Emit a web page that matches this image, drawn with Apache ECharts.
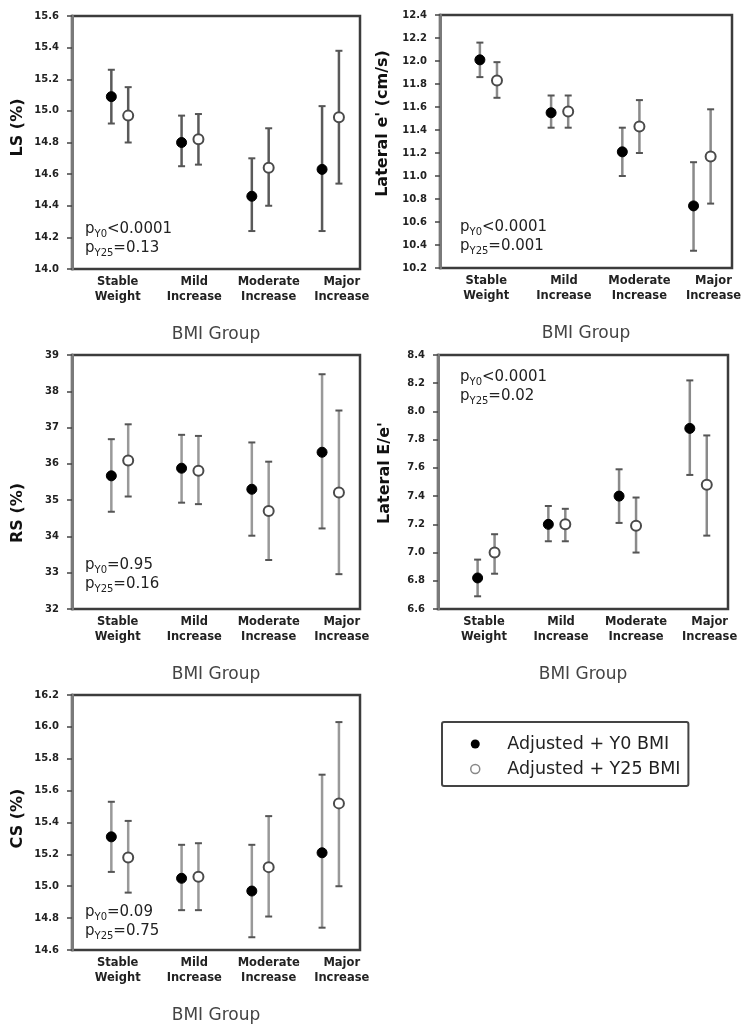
<!DOCTYPE html>
<html>
<head>
<meta charset="utf-8">
<script src="https://cdn.jsdelivr.net/npm/echarts@6/dist/echarts.min.js"></script>
<style>
  html, body { margin: 0; padding: 0; background: #fff; }
  #chart { width: 747px; height: 1028px; }
</style>
</head>
<body>
<div id="chart"></div>
<script>
// categories
const groups = ['Stable\nWeight', 'Mild\nIncrease', 'Moderate\nIncrease', 'Major\nIncrease']

// each entry: [mean, lower CI, upper CI]
const lsY0 = [[15.09, 14.92, 15.26], [14.80, 14.65, 14.97], [14.46, 14.24, 14.70], [14.63, 14.24, 15.03]]
const lsY25 = [[14.97, 14.80, 15.15], [14.82, 14.66, 14.98], [14.64, 14.40, 14.89], [14.96, 14.54, 15.38]]

const latEY0 = [[12.01, 11.86, 12.16], [11.55, 11.42, 11.70], [11.21, 11.00, 11.42], [10.74, 10.35, 11.12]]
const latEY25 = [[11.83, 11.68, 11.99], [11.56, 11.42, 11.70], [11.43, 11.20, 11.66], [11.17, 10.76, 11.58]]

const rsY0 = [[35.67, 34.68, 36.68], [35.88, 34.93, 36.80], [35.30, 34.02, 36.59], [36.32, 34.22, 38.47]]
const rsY25 = [[36.09, 35.10, 37.09], [35.81, 34.89, 36.77], [34.70, 33.35, 36.06], [35.21, 32.96, 37.47]]

const eeY0 = [[6.82, 6.69, 6.95], [7.20, 7.08, 7.33], [7.40, 7.21, 7.59], [7.88, 7.55, 8.22]]
const eeY25 = [[7.00, 6.85, 7.13], [7.20, 7.08, 7.31], [7.19, 7.00, 7.39], [7.48, 7.12, 7.83]]

const csY0 = [[15.31, 15.09, 15.53], [15.05, 14.85, 15.26], [14.97, 14.68, 15.26], [15.21, 14.74, 15.70]]
const csY25 = [[15.18, 14.96, 15.41], [15.06, 14.85, 15.27], [15.12, 14.81, 15.44], [15.52, 15.00, 16.03]]

// p-value annotations
const pLS = ['<0.0001', '=0.13']
const pLatE = ['<0.0001', '=0.001']
const pRS = ['=0.95', '=0.16']
const pEE = ['<0.0001', '=0.02']
const pCS = ['=0.09', '=0.75']

const seriesNames = ['Adjusted + Y0 BMI', 'Adjusted + Y25 BMI']

// layout
const FONT = 'DejaVu Sans'
const DODGE = 0.12
const LABEL_AT = [0.97, 2.06, 3.12, 4.16]

const panels = [
  { title: 'LS (%)', y0: lsY0, y25: lsY25, min: 14.0, max: 15.6, step: 0.2, dec: 1, p: pLS,
    grid: { left: 72, top: 16, width: 288, height: 253 }, nameGap: 46, namePad: [0, 0, 0, 30], pAt: [85, 239], bar: '#5a5a5a' },
  { title: "Lateral e' (cm/s)", y0: latEY0, y25: latEY25, min: 10.2, max: 12.4, step: 0.2, dec: 1, p: pLatE,
    grid: { left: 440, top: 15, width: 292, height: 253 }, nameGap: 49, namePad: [0, 0, 0, 36], pAt: [460, 237], bar: '#8a8a8a' },
  { title: 'RS (%)', y0: rsY0, y25: rsY25, min: 32, max: 39, step: 1, dec: 0, p: pRS,
    grid: { left: 72, top: 355, width: 288, height: 254 }, nameGap: 46, namePad: [0, 62, 0, 0], pAt: [85, 575], bar: '#999' },
  { title: "Lateral E/e'", y0: eeY0, y25: eeY25, min: 6.6, max: 8.4, step: 0.2, dec: 1, p: pEE,
    grid: { left: 438, top: 355, width: 290, height: 254 }, nameGap: 45, namePad: [0, 0, 0, 18], pAt: [460, 387], bar: '#8a8a8a' },
  { title: 'CS (%)', y0: csY0, y25: csY25, min: 14.6, max: 16.2, step: 0.2, dec: 1, p: pCS,
    grid: { left: 72, top: 695, width: 288, height: 255 }, nameGap: 46, namePad: [0, 0, 0, 8], pAt: [85, 922], bar: '#999' },
]

const chart = echarts.init(document.getElementById('chart'))

const makeErrorBar = (color) => (params, api) => {
  const x = api.value(0)
  const top = api.coord([x, api.value(2)])
  const bot = api.coord([x, api.value(1)])
  const w = 3.5
  return {
    type: 'group',
    children: [
      { type: 'line', shape: { x1: top[0], y1: top[1], x2: bot[0], y2: bot[1] }, style: { stroke: color, lineWidth: 2.5 } },
      { type: 'line', shape: { x1: top[0] - w, y1: top[1], x2: top[0] + w, y2: top[1] }, style: { stroke: '#555', lineWidth: 2 } },
      { type: 'line', shape: { x1: bot[0] - w, y1: bot[1], x2: bot[0] + w, y2: bot[1] }, style: { stroke: '#555', lineWidth: 2 } },
    ],
  }
}

const grids = []
const xAxes = []
const yAxes = []
const series = []
const graphics = []

panels.forEach((pn, k) => {
  grids.push({
    ...pn.grid,
    show: true,
    borderColor: '#3c3c3c',
    borderWidth: 2.5,
    backgroundColor: 'transparent',
    outerBoundsMode: 'none',
    containLabel: false,
  })
  xAxes.push({
    gridIndex: k,
    type: 'value',
    min: 0.32,
    max: 4.42,
    axisLine: { show: false },
    axisTick: { show: false },
    splitLine: { show: false },
    axisLabel: {
      customValues: LABEL_AT,
      formatter: (v) => groups[Math.round(v) - 1],
      fontFamily: FONT,
      fontSize: 11.5,
      fontWeight: 'bold',
      color: '#222',
      lineHeight: 15,
      margin: 6,
    },
    name: 'BMI Group',
    nameLocation: 'middle',
    nameGap: 57,
    nameTextStyle: { fontFamily: FONT, fontSize: 17, color: '#444' },
  })
  yAxes.push({
    gridIndex: k,
    type: 'value',
    min: pn.min,
    max: pn.max,
    interval: pn.step,
    axisLine: { show: true, lineStyle: { color: '#7a7a7a', width: 3 } },
    axisTick: { show: true, inside: false, length: 5, lineStyle: { color: '#444', width: 1.5 } },
    splitLine: { show: false },
    axisLabel: {
      formatter: (v) => v.toFixed(pn.dec),
      fontFamily: FONT,
      fontSize: 10,
      fontWeight: 'bold',
      color: '#222',
      margin: 13,
    },
    name: pn.title,
    nameLocation: 'middle',
    nameGap: pn.nameGap,
    nameTextStyle: { fontFamily: FONT, fontSize: 16, fontWeight: 'bold', color: '#111', padding: pn.namePad },
  })

  const sets = [pn.y0, pn.y25]
  sets.forEach((arr, s) => {
    const off = s === 0 ? -DODGE : DODGE
    series.push({
      type: 'custom',
      xAxisIndex: k,
      yAxisIndex: k,
      z: 2,
      silent: true,
      renderItem: makeErrorBar(pn.bar),
      encode: { x: 0, y: [1, 2] },
      data: arr.map((d, i) => [i + 1 + off, d[1], d[2]]),
    })
  })
  sets.forEach((arr, s) => {
    const off = s === 0 ? -DODGE : DODGE
    series.push({
      name: seriesNames[s],
      type: 'scatter',
      xAxisIndex: k,
      yAxisIndex: k,
      z: 3,
      symbol: 'circle',
      symbolSize: 10,
      itemStyle: s === 0
        ? { color: '#000', borderColor: '#000', borderWidth: 1, opacity: 1 }
        : { color: '#fff', borderColor: '#4a4a4a', borderWidth: 2, opacity: 1 },
      data: arr.map((d, i) => [i + 1 + off, d[0]]),
    })
  })

  graphics.push({
    type: 'text',
    x: pn.pAt[0],
    y: pn.pAt[1],
    style: {
      text: 'p{s|Y0}' + pn.p[0] + '\np{s|Y25}' + pn.p[1],
      fontFamily: FONT,
      fontSize: 15,
      fill: '#222',
      lineHeight: 19,
      align: 'left',
      verticalAlign: 'middle',
      rich: {
        s: { fontFamily: FONT, fontSize: 10, fill: '#222', verticalAlign: 'bottom' },
      },
    },
  })
})

chart.setOption({
  animation: false,
  backgroundColor: '#fff',
  textStyle: { fontFamily: FONT },
  grid: grids,
  xAxis: xAxes,
  yAxis: yAxes,
  series: series,
  graphic: graphics,
  legend: {
    left: 442,
    top: 722,
    orient: 'vertical',
    selectedMode: false,
    itemWidth: 54,
    itemHeight: 9,
    itemGap: 7,
    padding: [13, 8, 8, 28],
    borderColor: '#444',
    borderWidth: 2,
    borderRadius: 2,
    textStyle: { fontFamily: FONT, fontSize: 17.5, color: '#222', lineHeight: 16 },
    data: [
      { name: seriesNames[0], icon: 'circle', itemStyle: { color: '#000', borderColor: '#000', borderWidth: 0, opacity: 1 } },
      { name: seriesNames[1], icon: 'circle', itemStyle: { color: '#fff', borderColor: '#888', borderWidth: 1.5, opacity: 1 } },
    ],
  },
})

window.addEventListener('resize', () => chart.resize())
</script>
</body>
</html>
